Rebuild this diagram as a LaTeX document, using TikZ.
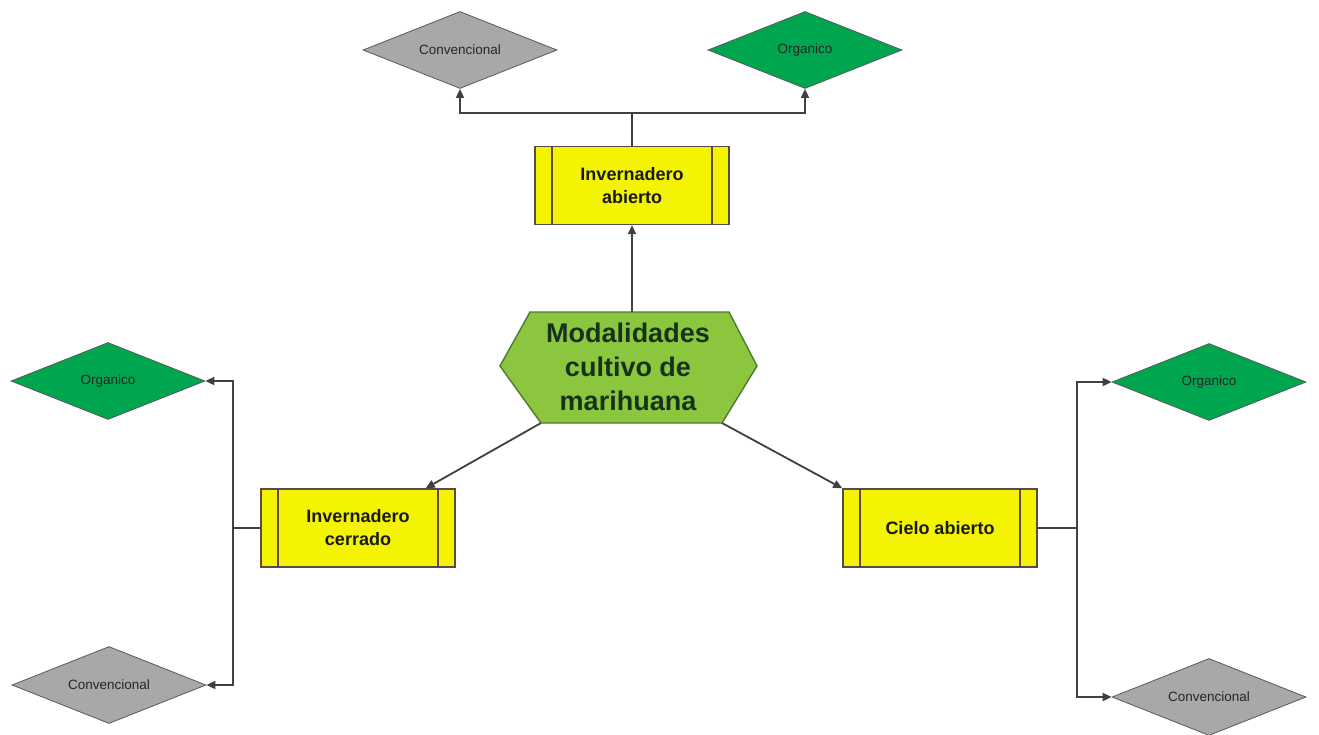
\documentclass[tikz,border=0pt]{standalone}
\usepackage{fontspec}
\setmainfont{Liberation Sans}
\usetikzlibrary{shapes.geometric,arrows.meta,calc}
\definecolor{dgray}{HTML}{A8A8A8}
\definecolor{dgreen}{HTML}{00A64F}
\definecolor{byellow}{HTML}{F4F400}
\definecolor{hexgreen}{HTML}{8CC63F}
\definecolor{hexline}{HTML}{4E7A2E}
\definecolor{lnc}{HTML}{404040}
\definecolor{boxline}{HTML}{5A4A4A}
\definecolor{hextext}{HTML}{16331A}
\begin{document}
\begin{tikzpicture}[x=1pt,y=-1pt,
  dia/.style={shape=diamond,aspect=2.5,draw=gray!70!black,line width=0.8pt,inner sep=0pt,
    minimum width=194pt,minimum height=77pt,font=\fontsize{13.5}{15}\selectfont,text=black!85},
  grayd/.style={dia,fill=dgray},
  greend/.style={dia,fill=dgreen},
  procbox/.style={draw=boxline,line width=1.4pt,fill=byellow,minimum width=194pt,minimum height=78pt,
    inner sep=0pt,align=center,font=\fontsize{18}{23}\selectfont\bfseries,text=black!90,
    path picture={\draw[boxline,line width=1.4pt]
      ([xshift=17pt]path picture bounding box.north west) -- ([xshift=17pt]path picture bounding box.south west)
      ([xshift=-17pt]path picture bounding box.north east) -- ([xshift=-17pt]path picture bounding box.south east);}},
  conn/.style={draw=lnc,line width=1.8pt,-{Triangle[length=9pt,width=8pt]}},
  plain/.style={draw=lnc,line width=1.8pt}
]
\useasboundingbox (0,0) rectangle (1319,734);
\fill[white] (0,0) rectangle (1319,734);

% hexagon
\coordinate (hL) at (500,366);
\coordinate (hTL) at (530,312);
\coordinate (hTR) at (729,312);
\coordinate (hR) at (757,366);
\coordinate (hBR) at (722,423);
\coordinate (hBL) at (541,423);
\coordinate (hT) at (632,312);
\filldraw[fill=hexgreen,draw=hexline,line width=1.4pt] (hL) -- (hTL) -- (hTR) -- (hR) -- (hBR) -- (hBL) -- cycle;
\node[align=center,font=\fontsize{27}{34}\selectfont\bfseries,text=hextext] (hub) at (628,367)
  {Modalidades\\cultivo de\\marihuana};

% process boxes
\node[procbox] (ia) at (632,185.5) {Invernadero\\abierto};
\node[procbox] (ic) at (358,528) {Invernadero\\cerrado};
\node[procbox] (ca) at (940,528) {Cielo abierto};

% diamonds
\node[grayd] (tconv) at (460,50) {Convencional};
\node[greend] (torg) at (805,50) {Organico};
\node[greend] (lorg) at (108,381) {Organico};
\node[grayd] (lconv) at (109,685) {Convencional};
\node[greend] (rorg) at (1209,382) {Organico};
\node[grayd] (rconv) at (1209,697) {Convencional};

% connectors from hub
\draw[conn] (hT) -- (ia.south);
\draw[conn] (hBL) -- ($(ic.north east)+(-30,0)$);
\draw[conn] (hBR) -- (ca.north west);

% top branch
\coordinate (tj) at ($(ia.north)+(0,-33)$);
\draw[plain] (ia.north) -- (tj);
\draw[conn] (tj) -| (tconv.south);
\draw[conn] (tj) -| (torg.south);

% left branch
\coordinate (lj) at ($(ic.west)+(-27,0)$);
\draw[plain] (ic.west) -- (lj);
\draw[conn] (lj) |- (lorg.east);
\draw[conn] (lj) |- (lconv.east);

% right branch
\coordinate (rj) at ($(ca.east)+(39,0)$);
\draw[plain] (ca.east) -- (rj);
\draw[conn] (rj) |- (rorg.west);
\draw[conn] (rj) |- (rconv.west);
\end{tikzpicture}
\end{document}
